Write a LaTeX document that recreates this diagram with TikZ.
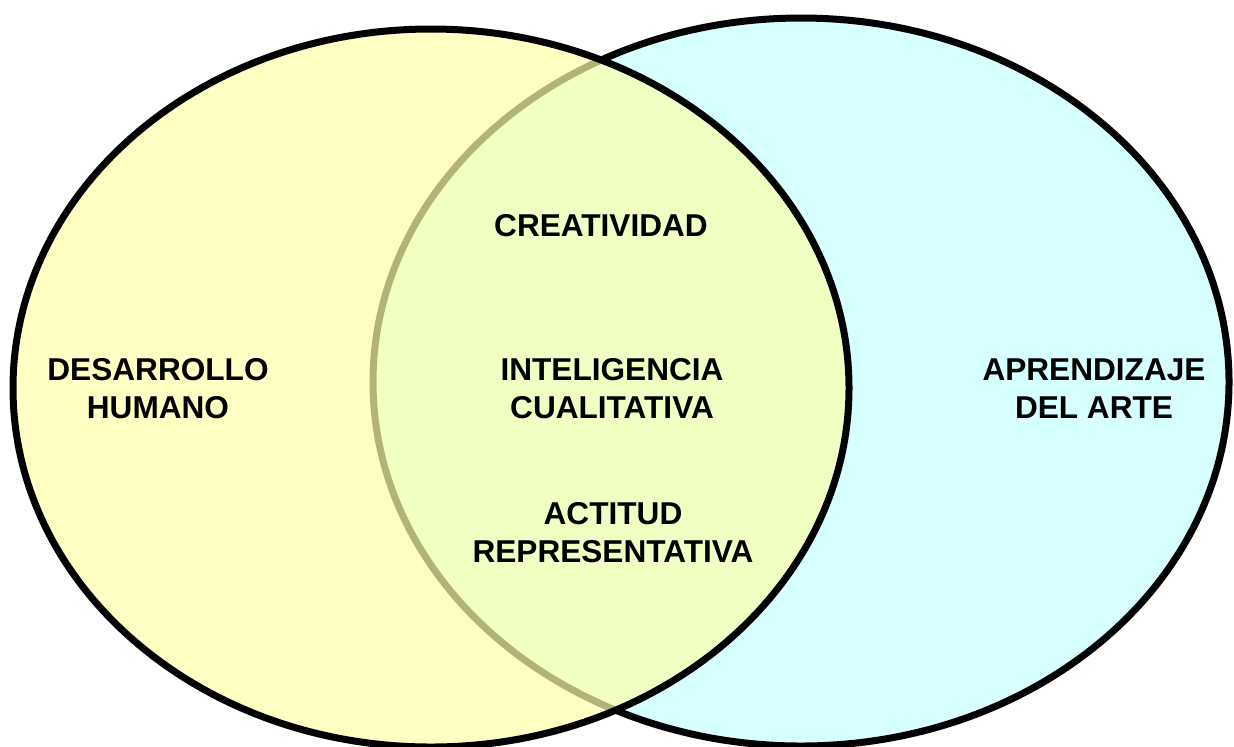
\documentclass[tikz,border=0pt]{standalone}
\usepackage{fontspec}
\setmainfont{Liberation Sans}
\usetikzlibrary{positioning}
\definecolor{amarillo}{RGB}{255,255,170}
\definecolor{celeste}{RGB}{214,255,255}

\begin{document}
\begin{tikzpicture}[x=0.5pt,y=-0.5pt,
		conjunto/.style={draw=black,line width=3.5pt},
		etiqueta/.style={align=center,inner sep=0pt,font=\fontsize{15.8}{19}\selectfont\bfseries}]
	\useasboundingbox (0,0) rectangle (1234,746);
	% los dos conjuntos
	\draw[conjunto,fill=celeste] (801,382) ellipse [x radius=428,y radius=364];
	\draw[conjunto,fill=amarillo,fill opacity=0.7] (431,388) ellipse [x radius=418,y radius=359];
	
	\node[etiqueta] (H) at (158,389)  {DESARROLLO\\HUMANO};
	\node[etiqueta] (A) at (1094,389) {APRENDIZAJE\\DEL ARTE};
	\node[etiqueta] (I) at (612,389)  {INTELIGENCIA\\CUALITATIVA};
	\node[etiqueta] (C) at (601,226)  {CREATIVIDAD};
	\node[etiqueta] (R) at (613,533)  {ACTITUD\\REPRESENTATIVA};
\end{tikzpicture}
\end{document}
